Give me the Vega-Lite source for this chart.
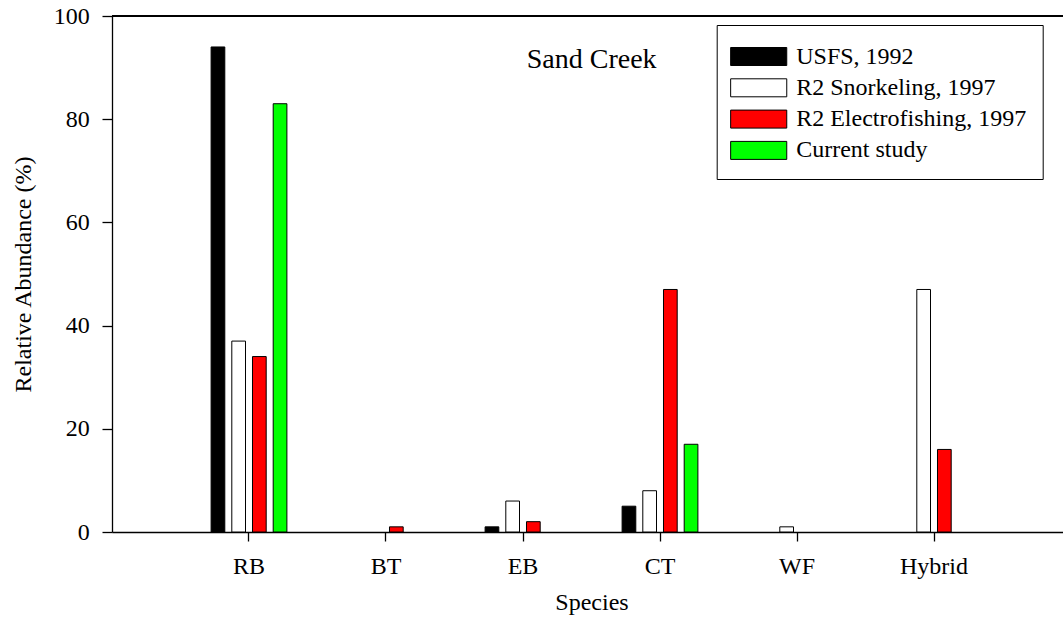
{
  "$schema": "https://vega.github.io/schema/vega-lite/v6.json",
  "width": 951,
  "height": 516,
  "autosize": "none",
  "padding": {"left": 112, "top": 16, "right": 0, "bottom": 98},
  "background": "white",
  "config": {
    "view": {"stroke": null},
    "font": "Liberation Serif",
    "axis": {
      "domainColor": "black",
      "domainWidth": 1.3,
      "tickColor": "black",
      "tickWidth": 1.3,
      "labelColor": "black",
      "labelFont": "Liberation Serif",
      "labelFontSize": 24,
      "titleFont": "Liberation Serif",
      "titleFontSize": 24,
      "titleFontWeight": "normal",
      "titleColor": "black",
      "grid": false
    }
  },
  "title": {
    "text": "Sand Creek",
    "anchor": "start",
    "frame": "group",
    "offset": 0,
    "dx": 414.7,
    "dy": 92,
    "baseline": "alphabetic",
    "font": "Liberation Serif",
    "fontSize": 28,
    "fontWeight": "normal",
    "color": "black"
  },
  "data": {
    "values": [
      {"species": "RB", "source": "USFS, 1992", "abundance": 94},
      {"species": "RB", "source": "R2 Snorkeling, 1997", "abundance": 37},
      {"species": "RB", "source": "R2 Electrofishing, 1997", "abundance": 34},
      {"species": "RB", "source": "Current study", "abundance": 83},
      {"species": "BT", "source": "R2 Electrofishing, 1997", "abundance": 1},
      {"species": "EB", "source": "USFS, 1992", "abundance": 1},
      {"species": "EB", "source": "R2 Snorkeling, 1997", "abundance": 6},
      {"species": "EB", "source": "R2 Electrofishing, 1997", "abundance": 2},
      {"species": "CT", "source": "USFS, 1992", "abundance": 5},
      {"species": "CT", "source": "R2 Snorkeling, 1997", "abundance": 8},
      {"species": "CT", "source": "R2 Electrofishing, 1997", "abundance": 47},
      {"species": "CT", "source": "Current study", "abundance": 17},
      {"species": "WF", "source": "R2 Snorkeling, 1997", "abundance": 1},
      {"species": "Hybrid", "source": "R2 Snorkeling, 1997", "abundance": 47},
      {"species": "Hybrid", "source": "R2 Electrofishing, 1997", "abundance": 16}
    ]
  },
  "layer": [
    {
      "mark": {"type": "bar", "stroke": "black", "strokeWidth": 1},
      "encoding": {
        "x": {
          "field": "species",
          "type": "nominal",
          "sort": ["RB", "BT", "EB", "CT", "WF", "Hybrid"],
          "scale": {"paddingInner": 0.2956, "paddingOuter": 0.6186, "align": 0.5236},
          "axis": {
            "labelAngle": 0,
            "tickSize": 9,
            "labelBaseline": "alphabetic",
            "labelPadding": 32.6,
            "title": "Species",
            "titleX": 479.5,
            "titleY": 77,
            "titleBaseline": "alphabetic",
            "titleAlign": "center",
            "titleAnchor": null
          }
        },
        "xOffset": {
          "field": "source",
          "type": "nominal",
          "sort": ["USFS, 1992", "R2 Snorkeling, 1997", "R2 Electrofishing, 1997", "Current study"],
          "scale": {"paddingInner": 0.338, "paddingOuter": 0.5}
        },
        "y": {
          "field": "abundance",
          "type": "quantitative",
          "scale": {"domain": [0, 100], "nice": false},
          "axis": {
            "values": [0, 20, 40, 60, 80, 100],
            "tickSize": 10,
            "labelPadding": 12.7,
            "title": "Relative Abundance (%)",
            "titleX": -82,
            "titleY": 258,
            "titleAngle": -90,
            "titleBaseline": "alphabetic",
            "titleAlign": "center",
            "titleAnchor": null
          }
        },
        "color": {
          "field": "source",
          "type": "nominal",
          "sort": ["USFS, 1992", "R2 Snorkeling, 1997", "R2 Electrofishing, 1997", "Current study"],
          "scale": {
            "domain": ["USFS, 1992", "R2 Snorkeling, 1997", "R2 Electrofishing, 1997", "Current study"],
            "range": ["#000000", "#ffffff", "#ff0000", "#00ff00"]
          },
          "legend": {
            "title": null,
            "orient": "none",
            "legendX": 604.7,
            "legendY": 9,
            "padding": 16,
            "strokeColor": "black",
            "fillColor": "white",
            "symbolType": "M-1.87,-0.6H1.87V0.6H-1.87Z",
            "symbolSize": 900,
            "symbolStrokeColor": "black",
            "symbolStrokeWidth": 1,
            "symbolOffset": 10.5,
            "labelOffset": 22,
            "labelFont": "Liberation Serif",
            "labelFontSize": 24,
            "labelColor": "black",
            "labelLimit": 0,
            "rowPadding": 3.3
          }
        }
      }
    },
    {
      "mark": {"type": "rule", "color": "black", "strokeWidth": 1.3},
      "encoding": {"y": {"datum": 100}}
    }
  ]
}
